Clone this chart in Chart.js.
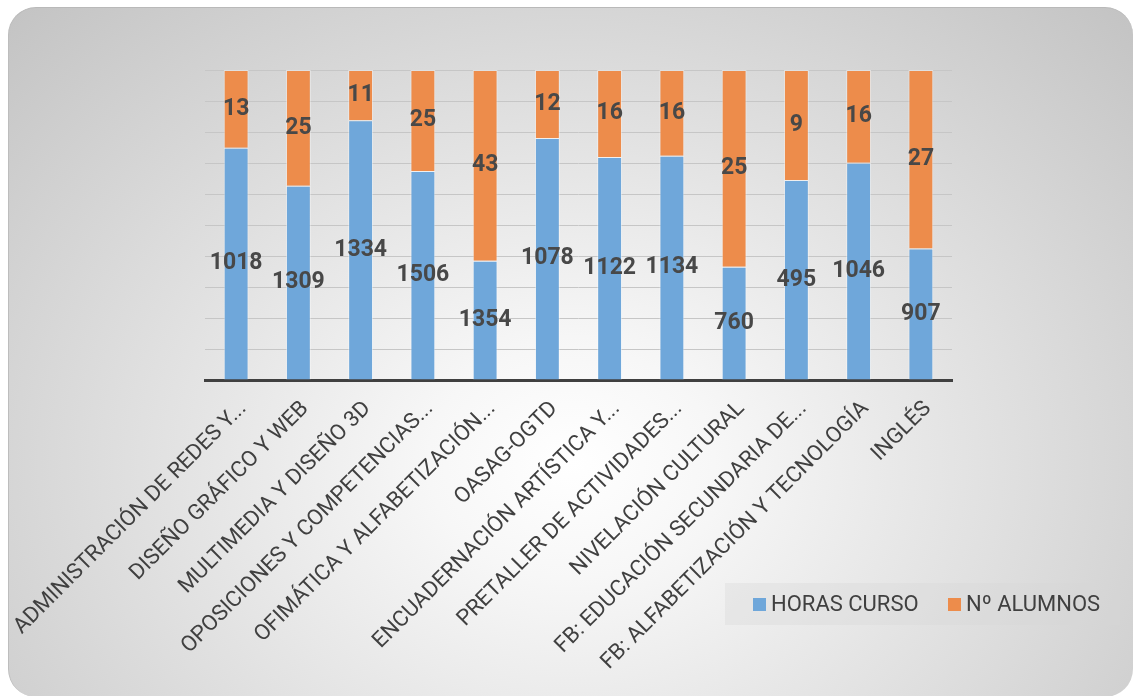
<!DOCTYPE html>
<html>
<head>
<meta charset="utf-8">
<script src="https://cdn.jsdelivr.net/npm/chart.js@4.4.1/dist/chart.umd.min.js"></script>
<style>
  html, body { margin: 0; padding: 0; background: #ffffff; overflow: hidden; }
  #wrap { position: relative; width: 1137px; height: 696px; }
  #bg {
    position: absolute; left: 8px; top: 7px; width: 1125px; height: 690px;
    border-radius: 28px;
    border-top: 1px solid #b9b9b9; border-left: 1px solid #bdbdbd;
    box-sizing: border-box;
    background: radial-gradient(ellipse farthest-corner at 50% 66%, #ffffff 0%, #f7f7f7 18%, #c3c3c3 100%);
  }
  #c { position: absolute; left: 0; top: 0; }
</style>
</head>
<body>
<div id="wrap">
  <div id="bg"></div>
  <canvas id="c" width="1137" height="696"></canvas>
</div>
<script>
const categories = [
  'ADMINISTRACIÓN DE REDES Y...',
  'DISEÑO GRÁFICO Y WEB',
  'MULTIMEDIA Y DISEÑO 3D',
  'OPOSICIONES Y COMPETENCIAS...',
  'OFIMÁTICA Y ALFABETIZACIÓN...',
  'OASAG-OGTD',
  'ENCUADERNACIÓN ARTÍSTICA Y...',
  'PRETALLER DE ACTIVIDADES...',
  'NIVELACIÓN CULTURAL',
  'FB: EDUCACIÓN SECUNDARIA DE...',
  'FB: ALFABETIZACIÓN Y TECNOLOGÍA',
  'INGLÉS'
];
// Values shown as data labels
const horasCurso = [1018, 1309, 1334, 1506, 1354, 1078, 1122, 1134, 760, 495, 1046, 907];
const numAlumnos = [13, 25, 11, 25, 43, 12, 16, 16, 25, 9, 16, 27];
// Segment shares (percent of column)
const horasShare = [74.9, 62.7, 83.8, 67.4, 38.5, 78.1, 71.9, 72.3, 36.5, 64.5, 70.1, 42.4];
const alumnosShare = [25.1, 37.3, 16.2, 32.6, 61.5, 21.9, 28.1, 27.7, 63.5, 35.5, 29.9, 57.6];
const yTicks = { min: 0, max: 100, step: 10 };

const labelFont = 'Roboto';

const dataLabelPlugin = {
  id: 'dataLabels',
  afterDatasetsDraw(chart) {
    const ctx = chart.ctx;
    ctx.save();
    ctx.font = 'bold 23px ' + labelFont;
    ctx.fillStyle = '#484848';
    ctx.textAlign = 'center';
    ctx.textBaseline = 'middle';
    chart.data.datasets.forEach((ds, di) => {
      const meta = chart.getDatasetMeta(di);
      meta.data.forEach((el, i) => {
        const y = (el.y + el.base) / 2;
        ctx.fillText(String(ds.shownValues[i]), el.x, y);
      });
    });
    ctx.restore();
  }
};

const customLegend = {
  id: 'customLegend',
  afterDraw(chart) {
    const ctx = chart.ctx;
    ctx.save();
    ctx.fillStyle = 'rgba(215,215,215,0.35)';
    ctx.fillRect(725, 583, 395, 42);
    ctx.font = '22px ' + labelFont;
    ctx.textBaseline = 'middle';
    ctx.textAlign = 'left';
    const xs = [753, 948];
    chart.data.datasets.forEach((ds, i) => {
      const x = xs[i];
      ctx.fillStyle = ds.backgroundColor;
      ctx.fillRect(x, 598, 13, 13);
      ctx.fillStyle = '#404040';
      ctx.fillText(ds.label, x + 18, 605);
    });
    ctx.restore();
  }
};

new Chart(document.getElementById('c'), {
  type: 'bar',
  data: {
    labels: categories,
    datasets: [
      {
        label: 'HORAS CURSO',
        data: horasShare,
        shownValues: horasCurso,
        backgroundColor: '#6fa7da',
        borderColor: 'rgba(255,255,255,0.45)',
        borderWidth: 1,
        categoryPercentage: 1,
        barPercentage: 0.4
      },
      {
        label: 'Nº ALUMNOS',
        data: alumnosShare,
        shownValues: numAlumnos,
        backgroundColor: '#ed8c4b',
        borderColor: 'rgba(255,255,255,0.45)',
        borderWidth: 1,
        categoryPercentage: 1,
        barPercentage: 0.4
      }
    ]
  },
  options: {
    responsive: false,
    animation: false,
    devicePixelRatio: 1,
    layout: { padding: { top: 70, left: 205, right: 185, bottom: 0 } },
    plugins: {
      legend: { display: false },
      tooltip: { enabled: false }
    },
    scales: {
      x: {
        stacked: true,
        grid: { display: false },
        border: { display: true, color: '#404040', width: 3 },
        ticks: {
          autoSkip: false,
          maxRotation: 45,
          minRotation: 45,
          color: '#404040',
          font: { family: labelFont, size: 22 },
          padding: 8,
          labelOffset: 7
        },
        afterFit(scale) {
          scale.height = 316;
          scale.paddingLeft = 0;
          scale.paddingRight = 0;
          scale.paddingTop = 0;
          scale.paddingBottom = 0;
        }
      },
      y: {
        stacked: true,
        min: yTicks.min,
        max: yTicks.max,
        ticks: { display: false, stepSize: yTicks.step },
        grid: { color: '#c6c6c6', lineWidth: 1, drawTicks: false },
        border: { display: false },
        afterFit(scale) {
          scale.width = 0;
          scale.paddingTop = 0;
          scale.paddingBottom = 0;
        }
      }
    }
  },
  plugins: [dataLabelPlugin, customLegend]
});
</script>
</body>
</html>
